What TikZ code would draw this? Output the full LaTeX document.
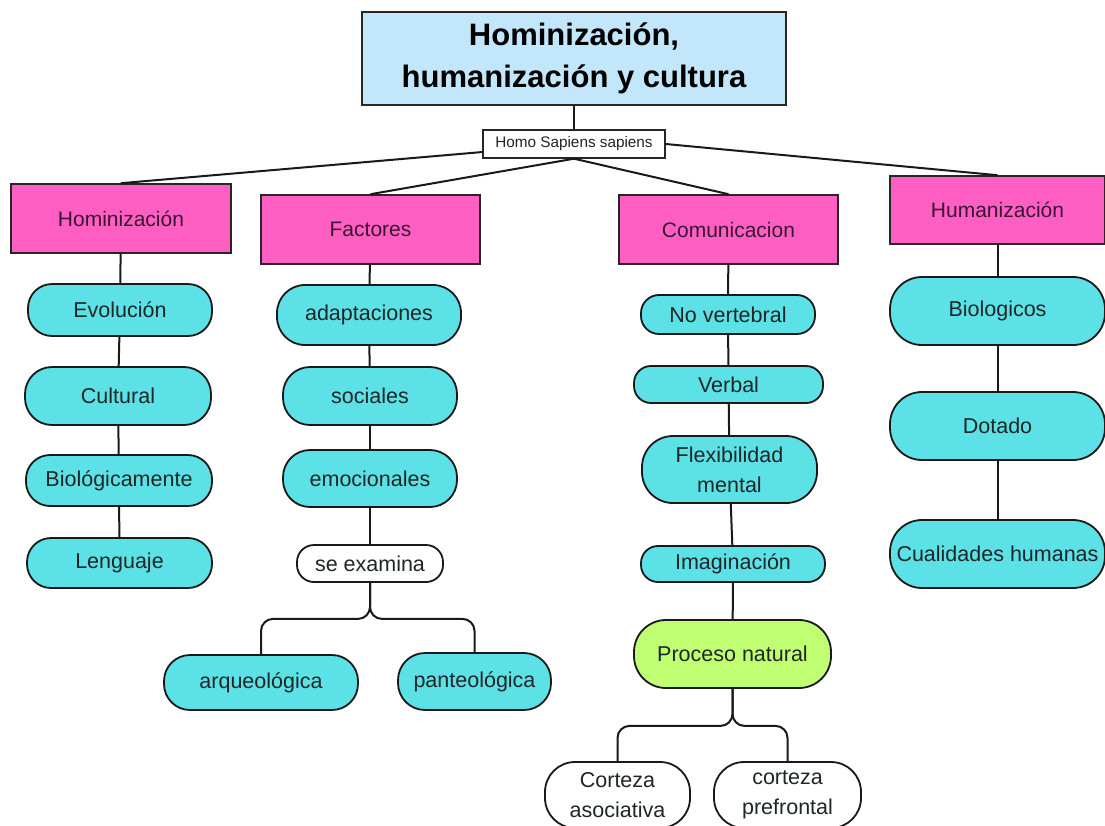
\documentclass[tikz,border=0pt]{standalone}
\usepackage{fontspec}
\setmainfont{Liberation Sans}
\definecolor{pinkc}{HTML}{FF5FC2}
\definecolor{cyanc}{HTML}{5CE1E6}
\definecolor{greenc}{HTML}{C1FF72}
\definecolor{bluec}{HTML}{C3E7FA}
\definecolor{txtc}{HTML}{1E2626}
\definecolor{pinktxt}{HTML}{3A1530}
\tikzset{
  conn/.style={draw=black!90, line width=2pt},
  titlebox/.style={rectangle, draw=black!85, line width=1.8pt, fill=bluec, inner sep=0pt,
    align=center, font=\fontsize{31}{42}\selectfont\bfseries},
  hsbox/.style={rectangle, draw=black!85, line width=1.4pt, fill=white, inner sep=0pt,
    font=\fontsize{15.3}{17}\selectfont, text=txtc},
  pinkbox/.style={rectangle, draw=black!85, line width=1.6pt, fill=pinkc, inner sep=0pt,
    font=\fontsize{21}{24}\selectfont, text=pinktxt},
  pill/.style={rectangle, rounded corners=#1, draw=black!90, line width=1.8pt, fill=cyanc,
    inner sep=0pt, align=center, font=\fontsize{21.5}{30}\selectfont, text=txtc},
  wpill/.style={pill=#1, fill=white},
  gpill/.style={pill=#1, fill=greenc},
}
\begin{document}
\begin{tikzpicture}[x=1pt,y=-1pt]
\useasboundingbox (0,0) rectangle (1105,825);
\clip (0,0) rectangle (1105,825);
% title
\node[titlebox, minimum width=424pt, minimum height=93pt] (t) at (574,58.5) {Hominización,\\humanización y cultura};
\node[hsbox, minimum width=182pt, minimum height=28pt] (hs) at (574,144) {Homo Sapiens sapiens};
% categories
\node[pinkbox, minimum width=220pt, minimum height=69pt] (hom) at (121,218.5) {Hominización};
\node[pinkbox, minimum width=219pt, minimum height=69pt] (fac) at (370.5,229.5) {Factores};
\node[pinkbox, minimum width=219pt, minimum height=69pt] (com) at (728.5,229.5) {Comunicacion};
\node[pinkbox, minimum width=215pt, minimum height=68pt] (hum) at (997.5,210) {Humanización};
% column 1
\node[pill=24pt, minimum width=184pt, minimum height=52pt] (evo) at (120,310) {Evolución};
\node[pill=27pt, minimum width=186pt, minimum height=58pt] (cul) at (118,396) {Cultural};
\node[pill=24pt, minimum width=186pt, minimum height=51pt] (bio) at (119,480.5) {Biológicamente};
\node[pill=24pt, minimum width=185pt, minimum height=50pt] (len) at (119.5,563) {Lenguaje};
% column 2
\node[pill=28pt, minimum width=184pt, minimum height=60pt] (ada) at (369,315) {adaptaciones};
\node[pill=27pt, minimum width=174pt, minimum height=58pt] (soc) at (370,396) {sociales};
\node[pill=27pt, minimum width=174pt, minimum height=57pt] (emo) at (370,478.5) {emocionales};
\node[wpill=17pt, minimum width=146pt, minimum height=37pt] (se) at (370,563.5) {se examina};
\node[pill=26pt, minimum width=194pt, minimum height=55pt] (arq) at (261,682.5) {arqueológica};
\node[pill=27pt, minimum width=153pt, minimum height=57pt] (pan) at (474.5,681.5) {panteológica};
% column 3
\node[pill=18pt, minimum width=174pt, minimum height=39pt] (nv) at (728,314.5) {No vertebral};
\node[pill=17pt, minimum width=189pt, minimum height=37pt] (ve) at (728.5,384.5) {Verbal};
\node[pill=31pt, minimum width=175pt, minimum height=67pt] (fl) at (729.5,469.5) {Flexibilidad\\mental};
\node[pill=17pt, minimum width=184pt, minimum height=36pt] (im) at (733,564) {Imaginación};
\node[gpill=32pt, minimum width=197pt, minimum height=68pt] (pn) at (732.5,654) {Proceso natural};
\node[wpill=30pt, minimum width=145pt, minimum height=66pt] (ca) at (617.5,795) {Corteza\\asociativa};
\node[wpill=30pt, minimum width=147pt, minimum height=66pt] (cp) at (787.5,795) {corteza\\prefrontal};
% column 4
\node[pill=32pt, minimum width=215pt, minimum height=68pt] (bg) at (997.5,311) {Biologicos};
\node[pill=32pt, minimum width=215pt, minimum height=68pt] (dt) at (997.5,426) {Dotado};
\node[pill=32pt, minimum width=215pt, minimum height=68pt] (cq) at (997.5,554) {Cualidades humanas};
% connectors
\draw[conn] (t) -- (hs);
\draw[conn] (hs.185) -- (hom.north);
\draw[conn] (hs.south) -- (fac.north);
\draw[conn] (hs.south) -- (com.north);
\draw[conn] (hs.east) -- (hum.north);
\draw[conn] (hom) -- (evo);
\draw[conn] (evo) -- (cul);
\draw[conn] (cul) -- (bio);
\draw[conn] (bio) -- (len);
\draw[conn] (fac) -- (ada);
\draw[conn] (ada) -- (soc);
\draw[conn] (soc) -- (emo);
\draw[conn] (emo) -- (se);
\draw[conn, rounded corners=12pt] (se.south) -- ++(0,36) -| (arq.north);
\draw[conn, rounded corners=12pt] (se.south) -- ++(0,36) -| (pan.north);
\draw[conn] (com) -- (nv);
\draw[conn] (nv) -- (ve);
\draw[conn] (ve) -- (fl);
\draw[conn] (fl) -- (im);
\draw[conn] (im) -- (pn);
\draw[conn, rounded corners=12pt] (pn.south) -- ++(0,37) -| (ca.north);
\draw[conn, rounded corners=12pt] (pn.south) -- ++(0,37) -| (cp.north);
\draw[conn] (hum) -- (bg);
\draw[conn] (bg) -- (dt);
\draw[conn] (dt) -- (cq);
\end{tikzpicture}
\end{document}
